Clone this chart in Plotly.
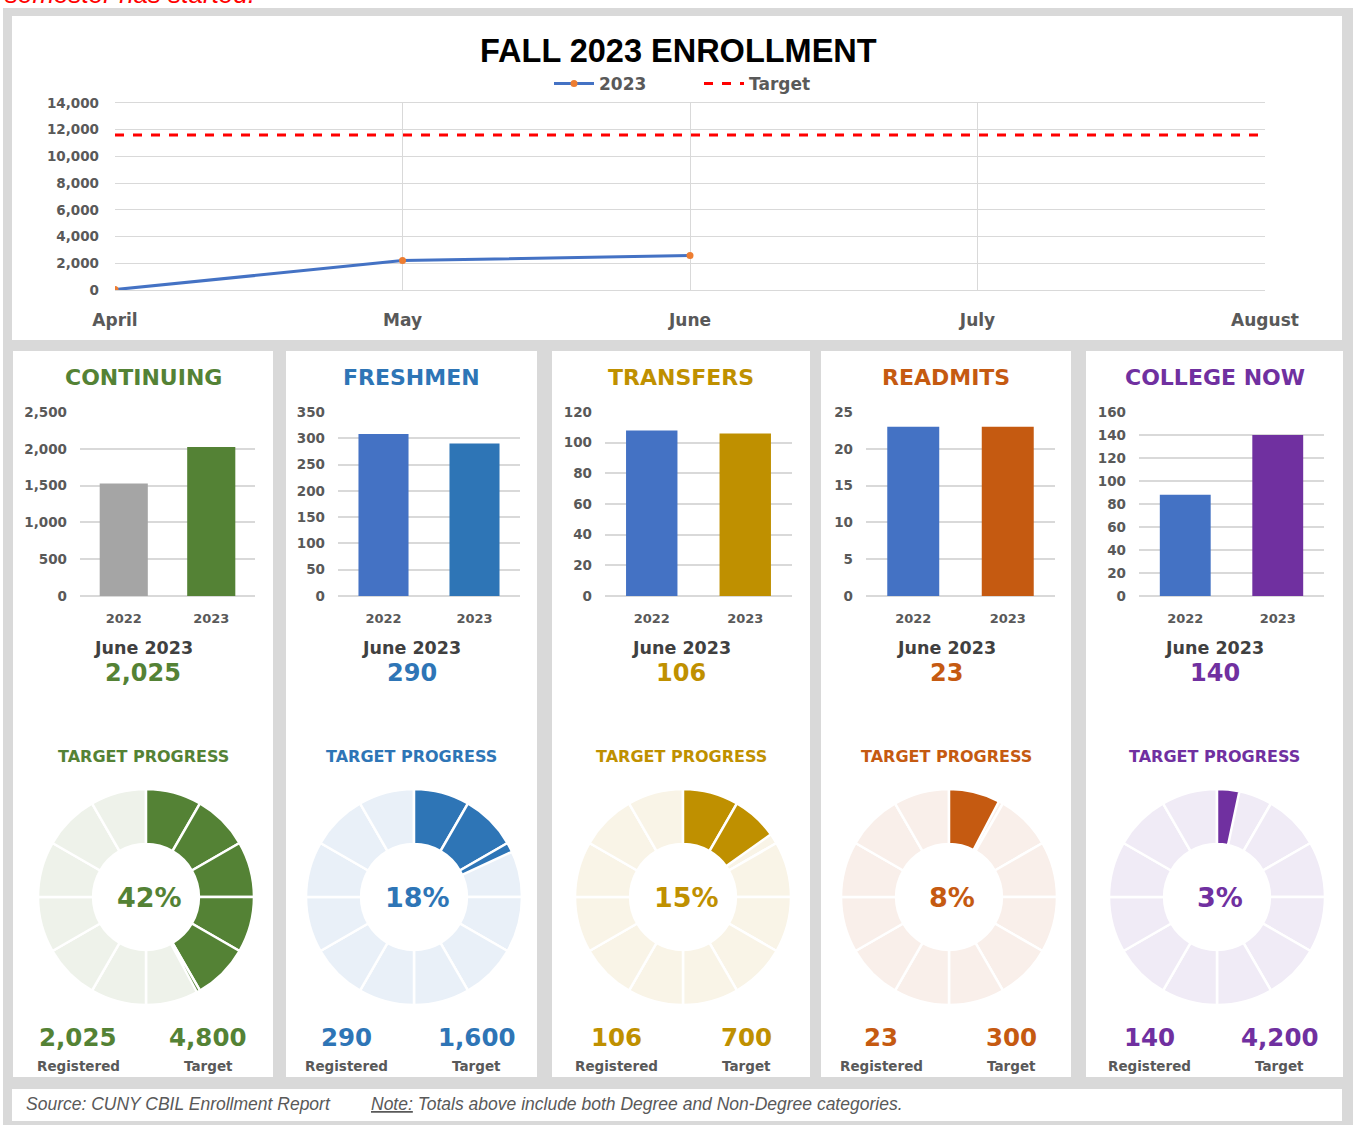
import plotly.graph_objects as go

W, H = 1353, 1125

# ---------------- data ----------------
months = ["April", "May", "June", "July", "August"]
enroll_2023 = [30, 2200, 2584]
target_line = [11600, 11600, 11600, 11600, 11600]

categories = ["CONTINUING", "FRESHMEN", "TRANSFERS", "READMITS", "COLLEGE NOW"]
years = ["2022", "2023"]
june_2022 = [1530, 308, 108, 23, 88]
june_2023 = [2025, 290, 106, 23, 140]
targets = [4800, 1600, 700, 300, 4200]
y_max = [2500, 350, 120, 25, 160]
y_dtick = [500, 50, 20, 5, 20]

# ---------------- styles ----------------
main_col = ["#548235", "#2E75B6", "#BF9000", "#C55A11", "#7030A0"]
bar22_col = ["#A5A5A5", "#4472C4", "#4472C4", "#4472C4", "#4472C4"]
light_col = ["#EEF2EA", "#E9F0F8", "#F9F4E7", "#F9EFEA", "#F0EBF6"]
panel_x = [(13, 273), (286, 537), (552, 810), (821, 1071), (1086, 1343)]
bar_dom = [(80, 255), (338, 520), (605, 792), (866, 1055), (1139, 1324)]
donut_cx = [146, 414, 683, 949, 1217]
GRAY = "#595959"
DARK = "#404040"
FONT = "DejaVu Sans, Verdana, sans-serif"
ARIAL = "Liberation Sans, Arial, sans-serif"


def px(x):
    return x / W


def py(y):
    return 1 - y / H


def note(text, x, y, size, color, xanchor="center", family=FONT):
    return dict(text=text, x=px(x), y=py(y), xref="paper", yref="paper",
                xanchor=xanchor, yanchor="middle", showarrow=False,
                font=dict(size=size, color=color, family=family))


fig = go.Figure()

# ---------------- line chart ----------------
fig.add_trace(go.Scatter(
    x=months[:len(enroll_2023)], y=enroll_2023, name="2023", mode="lines+markers",
    line=dict(color="#4472C4", width=3), marker=dict(color="#ED7D31", size=7),
    xaxis="x", yaxis="y"))
fig.add_trace(go.Scatter(
    x=months, y=target_line, name="Target", mode="lines",
    line=dict(color="#FF0000", width=3, dash="dash"), xaxis="x", yaxis="y"))

layout = dict(
    width=W, height=H, margin=dict(l=0, r=0, t=0, b=0, pad=0, autoexpand=False),
    paper_bgcolor="white", plot_bgcolor="rgba(0,0,0,0)",
    font=dict(family=FONT, color=GRAY),
    showlegend=True, bargap=0.45,
    legend=dict(orientation="h", x=px(549), xanchor="left", y=py(84), yanchor="middle",
                font=dict(size=17, color=GRAY, weight="bold", family=FONT),
                bgcolor="rgba(0,0,0,0)", itemwidth=40, entrywidth=95),
    xaxis=dict(domain=[px(115), px(1265)], anchor="y", type="category",
               categoryorder="array", categoryarray=months, range=[0, 4],
               showgrid=True, gridcolor="#D9D9D9", gridwidth=1, zeroline=False,
               showline=True, mirror=True, linecolor="#D9D9D9", automargin=False,
               tickfont=dict(size=17, color=GRAY, weight="bold"), ticklabelstandoff=15,
               fixedrange=True),
    yaxis=dict(domain=[py(290), py(103)], anchor="x", range=[0, 14000], dtick=2000,
               tickformat=",", showgrid=True, gridcolor="#D9D9D9", zeroline=False,
               showline=False, tickfont=dict(size=13.5, color=GRAY, weight="bold"),
               ticklabelstandoff=15, fixedrange=True, automargin=False),
)

shapes = []
annotations = []

# background frame
shapes.append(dict(type="rect", xref="paper", yref="paper", x0=px(3), x1=px(1353),
                   y0=py(1125), y1=py(8), fillcolor="#D9D9D9", line=dict(width=0), layer="below"))
# top panel
shapes.append(dict(type="rect", xref="paper", yref="paper", x0=px(12), x1=px(1342),
                   y0=py(340), y1=py(16), fillcolor="white", line=dict(width=0), layer="below"))
# footer panel
shapes.append(dict(type="rect", xref="paper", yref="paper", x0=px(12), x1=px(1342),
                   y0=py(1121), y1=py(1089), fillcolor="white", line=dict(width=0), layer="below"))

annotations.append(note("<b>FALL 2023 ENROLLMENT</b>", 678, 51, 32.5, "#000000", family=ARIAL))

# cut-off red note at the very top (as in the reference)
annotations.append(dict(text="<i>semester has started.</i>", x=px(3), y=py(11),
                        xref="paper", yref="paper", xanchor="left", yanchor="bottom",
                        showarrow=False, font=dict(size=26, color="#FF0000", family=ARIAL)))

# ---------------- panels ----------------
for i, cat in enumerate(categories):
    x0, x1 = panel_x[i]
    cx = (x0 + x1) / 2
    shapes.append(dict(type="rect", xref="paper", yref="paper", x0=px(x0), x1=px(x1),
                       y0=py(1077), y1=py(351), fillcolor="white", line=dict(width=0),
                       layer="below"))
    k = i + 2
    xa, ya = f"x{k}", f"y{k}"
    fig.add_trace(go.Bar(x=years, y=[june_2022[i], june_2023[i]],
                         marker=dict(color=[bar22_col[i], main_col[i]], line=dict(width=0)),
                         xaxis=xa, yaxis=ya, showlegend=False, hoverinfo="x+y"))
    d0, d1 = bar_dom[i]
    layout[f"xaxis{k}"] = dict(domain=[px(d0), px(d1)], anchor=ya, type="category",
                               showgrid=False, zeroline=False, showline=False,
                               automargin=False,
                               tickfont=dict(size=13, color=GRAY, weight="bold"),
                               ticklabelstandoff=13, fixedrange=True)
    layout[f"yaxis{k}"] = dict(domain=[py(596), py(412)], anchor=xa,
                               range=[0, y_max[i]], dtick=y_dtick[i], tickformat=",",
                               showgrid=True, gridcolor="#D9D9D9", gridwidth=1.5,
                               zeroline=True, zerolinecolor="#D9D9D9", zerolinewidth=1.5,
                               showline=False, automargin=False,
                               tickfont=dict(size=13.5, color=GRAY, weight="bold"),
                               ticklabelstandoff=12, fixedrange=True)

    # texts
    annotations.append(note(f"<b>{cat}</b>", cx, 377, 22, main_col[i]))
    annotations.append(note("<b>June 2023</b>", cx, 648, 17.5, DARK))
    annotations.append(note(f"<b>{june_2023[i]:,}</b>", cx, 673, 24, main_col[i]))
    annotations.append(note("<b>TARGET PROGRESS</b>", cx, 756, 16, main_col[i]))

    # donut
    pct = june_2023[i] / targets[i]
    dcx, dcy, r = donut_cx[i], 897, 108
    dom = dict(x=[px(dcx - r), px(dcx + r)], y=[py(dcy + r), py(dcy - r)])
    fig.add_trace(go.Pie(values=[1] * 12, sort=False, direction="clockwise", rotation=0,
                         hole=0.49, domain=dom, textinfo="none", hoverinfo="skip",
                         marker=dict(colors=[light_col[i]] * 12,
                                     line=dict(color="white", width=2.5)),
                         showlegend=False))
    seg = 1 / 12
    vals, cols, lcols = [], [], []
    rem = pct
    while rem > 1e-9:
        v = min(seg, rem)
        vals.append(v)
        cols.append(main_col[i])
        lcols.append("white")
        rem -= v
    vals.append(1 - pct)
    cols.append("rgba(0,0,0,0)")
    lcols.append("rgba(0,0,0,0)")
    fig.add_trace(go.Pie(values=vals, sort=False, direction="clockwise", rotation=0,
                         hole=0.49, domain=dom, textinfo="none", hoverinfo="skip",
                         marker=dict(colors=cols, line=dict(color=lcols, width=2.5)),
                         showlegend=False))
    annotations.append(note(f"<b>{round(pct * 100)}%</b>", dcx + 3, 897, 27, main_col[i]))

    # registered / target
    for val, lab, off in [(june_2023[i], "Registered", -65), (targets[i], "Target", 65)]:
        annotations.append(note(f"<b>{val:,}</b>", cx + off, 1037, 24.5, main_col[i]))
        annotations.append(note(f"<b>{lab}</b>", cx + off, 1066, 13.5, GRAY))

# footer
NARROW = "Liberation Sans Narrow, Arial Narrow, Liberation Sans, sans-serif"
annotations.append(note("<i>Source: CUNY CBIL Enrollment Report</i>", 24, 1104, 17.5,
                        GRAY, xanchor="left", family=NARROW))
annotations.append(note("<i><u>Note:</u> Totals above include both Degree and Non-Degree categories.</i>",
                        369, 1104, 17.5, GRAY, xanchor="left", family=NARROW))

layout["shapes"] = shapes
layout["annotations"] = annotations
fig.update_layout(**layout)

fig.write_html("out.html", config={"displayModeBar": False})
